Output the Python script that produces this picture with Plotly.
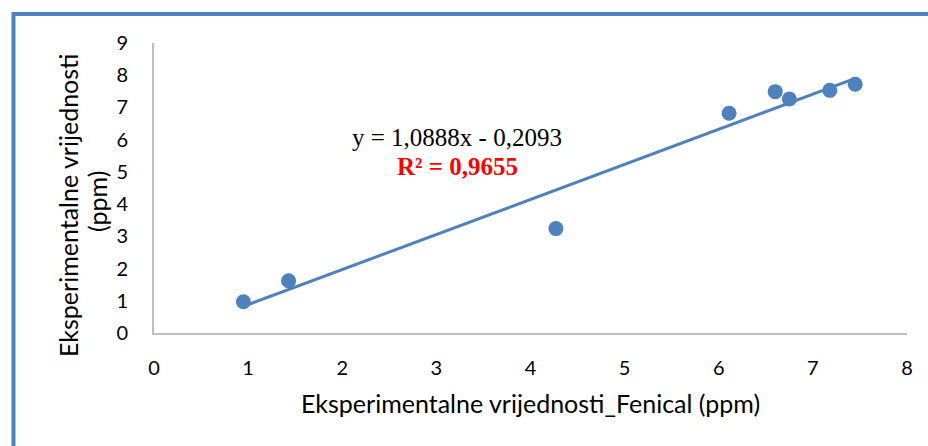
import numpy as np
import plotly.graph_objects as go

# Measured values (ppm)
fenical_x = [0.95, 1.43, 4.27, 6.11, 6.60, 6.75, 7.18, 7.45]
experimental_y = [0.97, 1.62, 3.24, 6.82, 7.49, 7.26, 7.53, 7.72]

# Linear trendline coefficients and fit quality
slope = 1.0888
intercept = -0.2093
r_squared = 0.9655

x_ticks = [0, 1, 2, 3, 4, 5, 6, 7, 8]
y_ticks = [0, 1, 2, 3, 4, 5, 6, 7, 8, 9]

x_title = "Eksperimentalne vrijednosti_Fenical (ppm)"
y_title_lines = ["Eksperimentalne vrijednosti", "(ppm)"]

blue = "#4F81BD"
axis_grey = "#BFBFBF"

fit_x = np.array([min(fenical_x), max(fenical_x)])
fit_y = slope * fit_x + intercept

fig = go.Figure()
fig.add_trace(go.Scatter(
    x=fit_x, y=fit_y, mode="lines",
    line=dict(color=blue, width=3), showlegend=False, hoverinfo="skip",
))
fig.add_trace(go.Scatter(
    x=fenical_x, y=experimental_y, mode="markers",
    marker=dict(color=blue, size=15), showlegend=False,
))

def fmt(v):
    return f"{abs(v):.4f}".replace(".", ",")

eq_text = f"y = {fmt(slope)}x {'-' if intercept < 0 else '+'} {fmt(intercept)}"
r2_text = f"<b>R² = {fmt(r_squared)}</b>"

W, H = 928, 446
L, R, T, B = 154, 21, 43, 113
pw, ph = W - L - R, H - T - B

def px(xp):
    return (xp - L) / pw

def py(yp):
    return (H - B - yp) / ph

def label(xp, yp, text, font, angle=0):
    fig.add_annotation(x=px(xp), y=py(yp), xref="paper", yref="paper",
                       xanchor="center", yanchor="middle",
                       text=text, showarrow=False, textangle=angle,
                       font=font)

serif = "Liberation Serif"
label(457, 137, eq_text, dict(family=serif, size=25, color="black"))
label(457, 166, r2_text, dict(family=serif, size=25, color="red"))

title_font = dict(family="Lato", size=25, color="black")
label(530, 403, x_title, title_font)
label(68, 205, y_title_lines[0], title_font, angle=-90)
label(97, 202, y_title_lines[1], title_font, angle=-90)

# Outer frame
fig.add_shape(type="rect", xref="paper", yref="paper",
              x0=px(13.5), x1=px(960), y0=py(480), y1=py(14),
              line=dict(color=blue, width=4), fillcolor="rgba(0,0,0,0)")

tick_font = dict(family="Lato", size=20, color="black")

fig.update_xaxes(
    range=[0, 8], tickvals=x_ticks, showgrid=False, zeroline=False,
    showline=True, linecolor=axis_grey, linewidth=2,
    tickfont=tick_font, ticks="", ticklabelstandoff=16,
)
fig.update_yaxes(
    range=[0, 9], tickvals=y_ticks, showgrid=False, zeroline=False,
    showline=True, linecolor=axis_grey, linewidth=2,
    tickfont=tick_font, ticks="", ticklabelstandoff=20,
)

fig.update_layout(
    width=W, height=H,
    margin=dict(l=L, r=R, t=T, b=B),
    paper_bgcolor="white", plot_bgcolor="white",
)

fig.write_html("out.html")
